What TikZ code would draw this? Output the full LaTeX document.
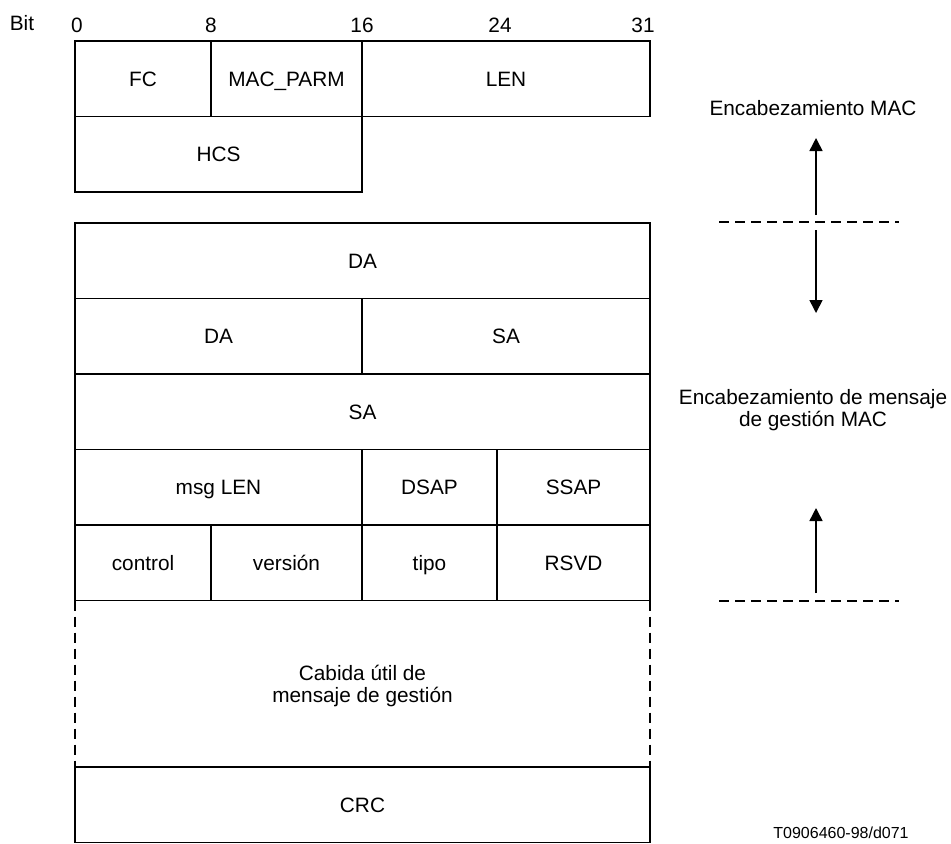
\documentclass[tikz,border=0pt]{standalone}
\usepackage{fontspec}
\setmainfont{Liberation Sans}
\usetikzlibrary{arrows.meta}

\newcommand{\fieldfont}{\fontsize{10.4}{11}\selectfont}
\newcommand{\notefont}{\fontsize{8}{9.5}\selectfont}

\tikzset{
  field/.style={draw, line width=0.9pt, inner sep=0pt, minimum height=37.75pt, text height=7.45pt, text depth=0pt},
  cutline/.style={line width=0.9pt, dash pattern=on 5pt off 3pt},
  arrowline/.style={line width=0.8pt, -{Triangle[length=6.5pt,width=6.5pt]}},
}

\begin{document}
\begin{tikzpicture}[x=0.5pt, y=-0.5pt, every node/.style={font=\fieldfont}]
    \useasboundingbox (0,0) rectangle (951,843);

    % Bit numbering
    \node (bit) at (22,23) {Bit};
    \node (b0) at (77,25) {0};
    \node (b8) at (211,25) {8};
    \node (b16) at (362,25) {16};
    \node (b24) at (500,25) {24};
    \node (b31) at (643,25) {31};

    % MAC header
    \node[field, minimum width=68pt] (fc) at (143,78.75) {FC};
    \node[field, minimum width=75.5pt] (macparm) at (286.5,78.75) {MAC\_PARM};
    \node[field, minimum width=144pt] (len) at (506,78.75) {LEN};
    \node[field, minimum width=143.5pt] (hcs) at (218.5,154.25) {HCS};

    % Management message header
    \node[field, minimum width=287.5pt] (da1) at (362.5,260.75) {DA};
    \node[field, minimum width=143.5pt] (da2) at (218.5,336.25) {DA};
    \node[field, minimum width=144pt] (sa1) at (506,336.25) {SA};
    \node[field, minimum width=287.5pt] (sa2) at (362.5,411.75) {SA};
    \node[field, minimum width=143.5pt] (msglen) at (218.5,487.25) {msg LEN};
    \node[field, minimum width=67.5pt] (dsap) at (429.5,487.25) {DSAP};
    \node[field, minimum width=76.5pt] (ssap) at (573.5,487.25) {SSAP};
    \node[field, minimum width=68pt] (control) at (143,562.75) {control};
    \node[field, minimum width=75.5pt] (version) at (286.5,562.75) {versión};
    \node[field, minimum width=67.5pt] (tipo) at (429.5,562.75) {tipo};
    \node[field, minimum width=76.5pt] (rsvd) at (573.5,562.75) {RSVD};

    % Payload, open on both sides
    \node[field, draw=none, outer sep=0pt, align=center, minimum width=287.5pt, minimum height=83.25pt, text height=18.45pt] (payload) at (362.5,683.75) {Cabida útil de\\mensaje de gestión};
    \draw[cutline] (payload.north west) -- (payload.south west);
    \draw[cutline] (payload.north east) -- (payload.south east);

    \node[field, minimum width=287.5pt] (crc) at (362.5,804.75) {CRC};

    % Header limits
    \coordinate (cut1w) at (719,222);
    \coordinate (cut1e) at (899,222);
    \coordinate (cut2w) at (719,601);
    \coordinate (cut2e) at (899,601);
    \draw[cutline] (cut1w) -- (cut1e);
    \draw[cutline] (cut2w) -- (cut2e);

    \node (machdr) at (813,108) {Encabezamiento MAC};
    \node[align=center] (mgmthdr) at (813,410) {Encabezamiento de mensaje\\de gestión MAC};

    % Arrows
    \coordinate (up1s) at (816,215);
    \coordinate (up1e) at (816,138);
    \coordinate (dn1s) at (816,230);
    \coordinate (dn1e) at (816,313);
    \coordinate (up2s) at (816,593);
    \coordinate (up2e) at (816,508);
    \draw[arrowline] (up1s) -- (up1e);
    \draw[arrowline] (dn1s) -- (dn1e);
    \draw[arrowline] (up2s) -- (up2e);

    \node[font=\notefont] (figref) at (841,833) {T0906460-98/d071};
\end{tikzpicture}
\end{document}
